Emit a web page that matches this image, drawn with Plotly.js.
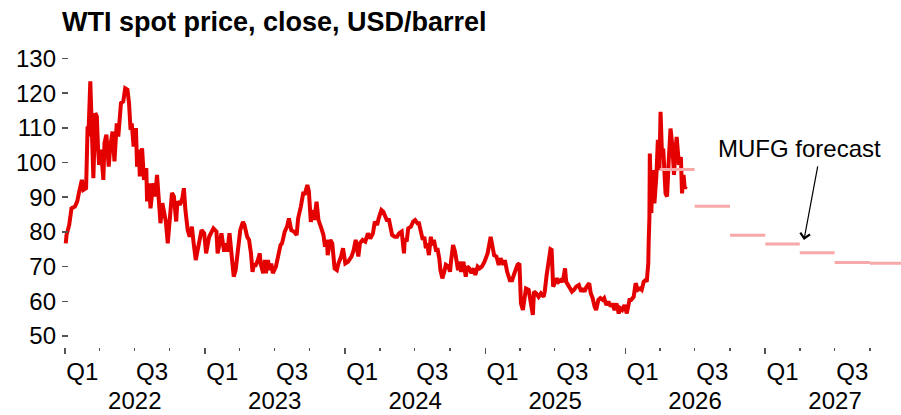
<!DOCTYPE html>
<html>
<head>
<meta charset="utf-8">
<script src="https://cdn.plot.ly/plotly-3.0.1.min.js"></script>
<style>html,body{margin:0;padding:0;background:#fff;}</style>
</head>
<body>
<div id="chart" style="width:901px;height:415px;"></div>
<script>
// ---- Data ----
const priceDates = [
'2022-01-03','2022-01-05','2022-01-12','2022-01-18','2022-01-27','2022-02-02','2022-02-07','2022-02-14','2022-02-18','2022-02-25',
'2022-03-01','2022-03-03','2022-03-08','2022-03-11','2022-03-16','2022-03-21','2022-03-25','2022-03-28','2022-03-31','2022-04-05',
'2022-04-11','2022-04-14','2022-04-19','2022-04-25','2022-04-29','2022-05-05','2022-05-10','2022-05-16','2022-05-20','2022-05-27',
'2022-06-02','2022-06-07','2022-06-13','2022-06-17','2022-06-21','2022-06-24','2022-06-29','2022-07-05','2022-07-08','2022-07-13',
'2022-07-15','2022-07-21','2022-07-26','2022-08-01','2022-08-03','2022-08-08','2022-08-12','2022-08-19','2022-08-24','2022-08-29',
'2022-09-02','2022-09-07','2022-09-12','2022-09-16','2022-09-21','2022-09-26','2022-09-30','2022-10-07','2022-10-12','2022-10-18',
'2022-10-21','2022-10-28','2022-11-03','2022-11-07','2022-11-11','2022-11-17','2022-11-22','2022-11-28','2022-12-02','2022-12-08',
'2022-12-13','2022-12-19','2022-12-23','2022-12-30',
'2023-01-04','2023-01-12','2023-01-23','2023-01-31','2023-02-03','2023-02-13','2023-02-20','2023-02-24','2023-02-28','2023-03-06',
'2023-03-09','2023-03-13','2023-03-17','2023-03-22','2023-03-28','2023-04-03','2023-04-10','2023-04-14','2023-04-21','2023-04-26',
'2023-05-01','2023-05-05','2023-05-09','2023-05-12','2023-05-19','2023-05-24','2023-05-26','2023-06-02','2023-06-06','2023-06-09',
'2023-06-14','2023-06-19','2023-06-23','2023-06-27','2023-07-05','2023-07-11','2023-07-17','2023-07-21','2023-07-28','2023-08-03',
'2023-08-08','2023-08-14','2023-08-21','2023-08-28','2023-09-01','2023-09-08','2023-09-14','2023-09-19','2023-09-25','2023-09-29',
'2023-10-04','2023-10-10','2023-10-13','2023-10-19','2023-10-24','2023-10-30','2023-11-06','2023-11-10','2023-11-15','2023-11-17',
'2023-11-24','2023-11-29','2023-12-05','2023-12-11','2023-12-15','2023-12-22','2023-12-27',
'2024-01-02','2024-01-09','2024-01-18','2024-01-24','2024-01-29','2024-02-05','2024-02-09','2024-02-16','2024-02-23','2024-03-01',
'2024-03-07','2024-03-14','2024-03-19','2024-03-25','2024-03-29','2024-04-05','2024-04-10','2024-04-15','2024-04-19','2024-04-25',
'2024-04-30','2024-05-03','2024-05-10','2024-05-16','2024-05-21','2024-05-28','2024-06-03','2024-06-05','2024-06-10','2024-06-14',
'2024-06-21','2024-06-27','2024-07-02','2024-07-08','2024-07-12','2024-07-17','2024-07-22','2024-07-26','2024-07-30','2024-08-02',
'2024-08-07','2024-08-12','2024-08-16','2024-08-20','2024-08-26','2024-08-29','2024-09-03','2024-09-06','2024-09-11','2024-09-16',
'2024-09-20','2024-09-27','2024-10-01','2024-10-04','2024-10-09','2024-10-14','2024-10-17','2024-10-22','2024-10-25','2024-10-30',
'2024-11-05','2024-11-11','2024-11-15','2024-11-20','2024-11-26','2024-12-02','2024-12-06','2024-12-12','2024-12-17','2024-12-23',
'2024-12-30',
'2025-01-07','2025-01-15','2025-01-24','2025-01-30','2025-02-05','2025-02-10','2025-02-17','2025-02-21','2025-02-27','2025-03-06',
'2025-03-12','2025-03-18','2025-03-26','2025-03-31','2025-04-04','2025-04-09','2025-04-14','2025-04-17','2025-04-24','2025-04-28',
'2025-05-05','2025-05-08','2025-05-14','2025-05-20','2025-05-26','2025-06-02','2025-06-05','2025-06-10','2025-06-16','2025-06-20',
'2025-06-23','2025-06-27','2025-07-01','2025-07-07','2025-07-11','2025-07-17','2025-07-22','2025-07-28','2025-07-31','2025-08-05',
'2025-08-11','2025-08-15','2025-08-20','2025-08-26','2025-09-02','2025-09-08','2025-09-12','2025-09-17','2025-09-22','2025-09-29',
'2025-10-03','2025-10-08','2025-10-13','2025-10-17','2025-10-23','2025-10-28','2025-11-03','2025-11-07','2025-11-13','2025-11-18',
'2025-11-24','2025-11-28','2025-12-04','2025-12-09','2025-12-15','2025-12-19','2025-12-24','2025-12-30',
'2026-01-05','2026-01-12','2026-01-16','2026-01-23','2026-01-28','2026-02-03','2026-02-09','2026-02-13','2026-02-18','2026-02-23',
'2026-02-26','2026-03-02','2026-03-03','2026-03-05','2026-03-06','2026-03-10','2026-03-13','2026-03-18','2026-03-23','2026-03-27',
'2026-03-31','2026-04-03','2026-04-07','2026-04-10','2026-04-16','2026-04-20','2026-04-24','2026-04-29','2026-05-04','2026-05-08',
'2026-05-12','2026-05-15','2026-05-21','2026-05-26','2026-05-29','2026-06-02','2026-06-05','2026-06-09'
];
const priceValues = [
76.7,79.1,82.0,86.8,87.3,88.8,91.6,95.0,92.1,92.6,
110.4,107.5,123.4,109.4,95.5,114.2,113.3,104.6,99.3,103.7,
95.0,105.6,108.0,98.8,104.6,108.9,100.3,111.3,107.5,117.1,
117.6,121.4,121.0,117.1,109.4,111.3,104.6,109.9,98.8,103.7,
96.0,104.1,95.0,98.4,88.8,94.0,86.8,94.0,90.2,96.4,
88.8,82.5,88.3,85.4,83.0,76.7,81.5,91.2,90.2,83.0,
88.8,87.8,89.7,92.6,86.3,80.5,78.6,81.5,77.2,71.9,
74.8,77.7,80.5,79.6,
73.8,78.6,81.0,80.1,73.8,79.6,74.3,76.7,74.3,79.6,
75.7,70.0,67.1,69.0,73.8,80.5,82.9,82.0,78.6,77.7,
73.8,68.5,70.9,70.0,71.9,73.8,70.9,68.1,71.9,68.1,
71.9,69.0,70.9,68.1,70.0,72.9,76.2,76.7,80.1,81.5,
83.9,80.5,80.1,79.1,83.9,87.3,91.1,91.1,93.5,91.6,
82.9,86.3,83.4,88.7,83.4,81.5,79.1,75.7,77.7,73.3,
77.7,76.7,69.5,69.0,70.9,72.9,75.3,
70.9,71.4,72.9,74.8,77.7,72.9,76.7,77.7,77.2,79.6,
78.1,79.6,83.0,82.0,83.9,86.3,85.8,84.4,83.4,83.4,
81.0,79.1,78.6,78.6,79.6,80.1,73.8,78.1,77.2,81.0,
81.5,83.0,83.4,82.5,82.5,79.6,77.7,78.6,75.3,76.7,
73.3,78.6,76.2,77.7,74.3,75.3,72.4,69.0,66.6,68.5,
70.5,70.0,68.5,71.9,76.2,74.3,71.4,69.0,71.4,68.5,
71.4,67.1,70.0,69.5,68.1,69.5,67.6,70.0,69.5,70.0,
71.4,
73.8,78.6,73.3,72.9,70.5,72.4,70.5,71.9,68.5,66.1,
66.1,68.1,70.5,70.9,59.4,57.5,62.3,63.7,63.3,59.9,
56.1,62.8,62.3,61.3,62.3,61.3,62.8,67.6,72.9,75.0,
74.8,64.2,65.2,66.6,65.6,66.1,65.6,69.5,65.6,64.7,
63.7,62.8,63.3,64.2,64.7,62.8,63.7,62.8,64.2,65.2,
62.3,60.9,58.5,57.5,60.4,60.9,60.4,60.9,58.9,59.9,
58.5,59.4,57.5,59.4,56.5,58.0,57.5,58.9,
56.5,60.4,60.4,61.3,65.2,63.3,63.7,63.3,65.6,66.1,
65.6,70.9,76.7,84.4,102.6,85.4,97.8,88.2,95.9,106.5,
97.8,114.6,101.6,104.0,91.1,90.2,99.8,109.8,104.6,96.4,
103.6,107.4,99.3,101.6,91.1,96.4,92.6,93.1
];

// MUFG quarterly forecast (Q2 2026 - Q4 2027)
const forecastStart  = ['2026-04-01','2026-07-01','2026-10-01','2027-01-01','2027-04-01','2027-07-01','2027-10-01'];
const forecastEnd    = ['2026-07-01','2026-10-01','2027-01-01','2027-04-01','2027-07-01','2027-10-01','2028-01-01'];
const forecastValues = [98.0, 87.4, 79.0, 76.5, 74.0, 71.2, 71.0];

// Axis ticks and labels
const yTicks = [50, 60, 70, 80, 90, 100, 110, 120, 130];
const yearStarts = ['2022-01-01','2023-01-01','2024-01-01','2025-01-01','2026-01-01','2027-01-01'];
const quarterStarts = [
'2022-01-01','2022-04-01','2022-07-01','2022-10-01','2023-01-01','2023-04-01','2023-07-01','2023-10-01',
'2024-01-01','2024-04-01','2024-07-01','2024-10-01','2025-01-01','2025-04-01','2025-07-01','2025-10-01',
'2026-01-01','2026-04-01','2026-07-01','2026-10-01','2027-01-01','2027-04-01','2027-07-01','2027-10-01'];
const quarterLabelDates = [
'2022-02-15','2022-08-16','2023-02-15','2023-08-16','2024-02-15','2024-08-16',
'2025-02-15','2025-08-16','2026-02-15','2026-08-16','2027-02-15','2027-08-16'];
const quarterLabels = ['Q1','Q3','Q1','Q3','Q1','Q3','Q1','Q3','Q1','Q3','Q1','Q3'];
const yearLabelDates = ['2022-07-02','2023-07-02','2024-07-02','2025-07-02','2026-07-02','2027-07-02'];
const yearLabels = ['2022','2023','2024','2025','2026','2027'];

// ---- Traces ----
const fx = [], fy = [];
for (let i = 0; i < forecastValues.length; i++) {
  fx.push(forecastStart[i], forecastEnd[i], null);
  fy.push(forecastValues[i], forecastValues[i], null);
}

const FONT = 'Liberation Sans, Arial, Helvetica, sans-serif';
const xRange = ['2021-12-24 05:00', '2027-12-21'];
const tickCol = '#555555';

const traces = [
  {type:'scatter', mode:'lines', x:priceDates, y:priceValues,
   line:{color:'#e50000', width:4}, hoverinfo:'skip'},
  {type:'scatter', mode:'lines', x:fx, y:fy, connectgaps:false,
   line:{color:'#f7a8a8', width:3}, hoverinfo:'skip'},
  // helper traces (invisible) so the label-only axes x2 / x3 are drawn
  {type:'scatter', mode:'lines', x:priceDates, y:priceValues, xaxis:'x2', yaxis:'y',
   line:{width:0}, opacity:0, hoverinfo:'skip'},
  {type:'scatter', mode:'lines', x:priceDates, y:priceValues, xaxis:'x3', yaxis:'y',
   line:{width:0}, opacity:0, hoverinfo:'skip'}
];

const axisBase = {type:'date', range:xRange, autorange:false, showgrid:false, zeroline:false, showline:false};

const layout = {
  width:901, height:415,
  margin:{l:62, r:0, t:50, b:68, pad:0},
  paper_bgcolor:'#ffffff', plot_bgcolor:'#ffffff',
  showlegend:false,
  font:{family:FONT, size:24, color:'#000'},
  title:{text:'<b>WTI spot price, close, USD/barrel</b>',
         font:{family:FONT, size:27, color:'#000'},
         x:0, xref:'paper', xanchor:'left', y:0.947, yref:'container', yanchor:'middle'},
  xaxis:Object.assign({}, axisBase, {
    tickmode:'array', tickvals:yearStarts, showticklabels:false,
    ticks:'outside', ticklen:6, tickwidth:1.5, tickcolor:tickCol,
    minor:{tickmode:'array', tickvals:quarterStarts, ticks:'outside', ticklen:3, tickwidth:1.5, tickcolor:tickCol, showgrid:false}
  }),
  xaxis2:Object.assign({}, axisBase, {
    overlaying:'x', anchor:'y', side:'bottom',
    tickmode:'array', tickvals:quarterLabelDates, ticktext:quarterLabels,
    ticks:'', tickangle:0, ticklabelstandoff:8,
    tickfont:{family:FONT, size:24, color:'#000'}
  }),
  xaxis3:Object.assign({}, axisBase, {
    overlaying:'x', anchor:'y', side:'bottom',
    tickmode:'array', tickvals:yearLabelDates, ticktext:yearLabels,
    ticks:'', tickangle:0, ticklabelstandoff:37,
    tickfont:{family:FONT, size:24, color:'#000'}
  }),
  yaxis:{range:[46.83, 132.42], autorange:false, tickmode:'array', tickvals:yTicks,
    ticks:'inside', ticklen:6, tickwidth:1.5, tickcolor:tickCol,
    showgrid:false, zeroline:false, showline:false, ticklabelstandoff:5,
    tickfont:{family:FONT, size:24, color:'#000'}},
  annotations:[
    {x:'2027-04-01', y:103.9, xref:'x', yref:'y', text:'MUFG forecast', showarrow:false,
     xanchor:'center', yanchor:'middle', font:{family:FONT, size:24, color:'#000'}},
    {x:'2027-04-12', y:77.7, xref:'x', yref:'y', text:'', showarrow:true,
     ax:14, ay:-75, arrowhead:4, arrowsize:1.6, arrowwidth:1.2, arrowcolor:'#000'}
  ]
};

Plotly.newPlot('chart', traces, layout, {staticPlot:true, displayModeBar:false});
</script>
</body>
</html>
